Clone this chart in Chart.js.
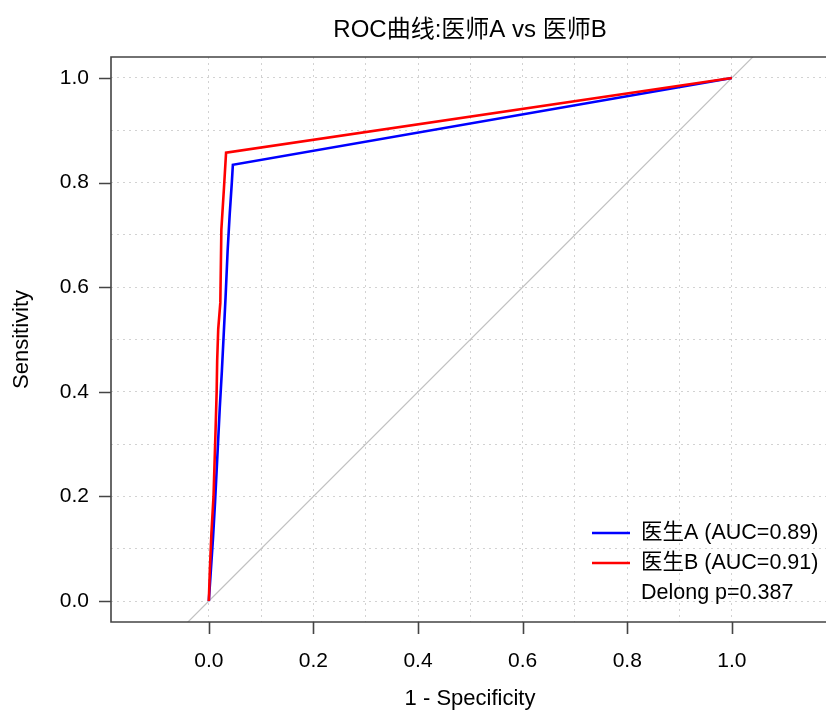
<!DOCTYPE html>
<html>
<head>
<meta charset="utf-8">
<script src="https://cdn.jsdelivr.net/npm/chart.js@4"></script>
<style>
  html, body { margin: 0; padding: 0; background: #fff; }
  #wrap { width: 826px; height: 710px; }
</style>
</head>
<body>
<div id="wrap"><canvas id="myChart" width="826" height="710"></canvas></div>
<script>
// ROC points (1 - specificity, sensitivity)
const fprA = [0, 0.004, 0.008, 0.012, 0.017, 0.021, 0.025, 0.028, 0.032, 0.036, 0.040, 0.044, 0.046, 1];
const tprA = [0, 0.06, 0.12, 0.19, 0.29, 0.37, 0.44, 0.50, 0.58, 0.67, 0.74, 0.80, 0.834, 1];
const fprB = [0, 0.002, 0.005, 0.009, 0.013, 0.015, 0.016, 0.018, 0.022, 0.024, 0.029, 0.033, 1];
const tprB = [0, 0.06, 0.13, 0.20, 0.33, 0.40, 0.46, 0.52, 0.57, 0.71, 0.79, 0.857, 1];
const diagX = [-0.2, 1.2];
const diagY = [-0.2, 1.2];

const legendLabels = ["医生A (AUC=0.89)", "医生B (AUC=0.91)"];
const pText = "Delong p=0.387";
const titleText = "ROC曲线:医师A vs 医师B";
const gridValues = [0, 0.1, 0.2, 0.3, 0.4, 0.5, 0.6, 0.7, 0.8, 0.9, 1.0];
const tickValues = [0, 0.2, 0.4, 0.6, 0.8, 1.0];

const FONT = "'Liberation Sans', Arial, 'Noto Sans CJK SC', sans-serif";

function toPoints(xs, ys) {
  return xs.map((x, i) => ({ x: x, y: ys[i] }));
}

// frame, tick marks, titles and legend
const decorations = {
  id: "decorations",
  afterDraw(chart) {
    const ctx = chart.ctx;
    const a = chart.chartArea;
    const xs = chart.scales.x;
    const ys = chart.scales.y;
    ctx.save();
    ctx.strokeStyle = "#444";
    ctx.lineWidth = 1.6;
    ctx.beginPath();
    ctx.moveTo(a.right + 5, a.top);
    ctx.lineTo(a.left, a.top);
    ctx.lineTo(a.left, a.bottom);
    ctx.lineTo(a.right + 5, a.bottom);
    ctx.stroke();
    ctx.beginPath();
    tickValues.forEach((v) => {
      const px = Math.round(xs.getPixelForValue(v)) + 0.5;
      ctx.moveTo(px, a.bottom);
      ctx.lineTo(px, a.bottom + 12);
      const py = Math.round(ys.getPixelForValue(v)) + 0.5;
      ctx.moveTo(a.left, py);
      ctx.lineTo(a.left - 12, py);
    });
    ctx.stroke();

    ctx.fillStyle = "#000";
    ctx.textAlign = "center";
    ctx.textBaseline = "middle";
    ctx.font = "24px " + FONT;
    ctx.fillText(titleText, 470, 30);
    ctx.font = "22px " + FONT;
    ctx.fillText("1 - Specificity", 470, 699);
    ctx.save();
    ctx.translate(22, (a.top + a.bottom) / 2);
    ctx.rotate(-Math.PI / 2);
    ctx.fillText("Sensitivity", 0, 0);
    ctx.restore();

    // legend
    const colors = ["#0000ff", "#ff0000"];
    ctx.textAlign = "left";
    ctx.font = "21.5px " + FONT;
    ctx.lineWidth = 2.5;
    legendLabels.forEach((t, i) => {
      const y = 533 + i * 30;
      ctx.strokeStyle = colors[i];
      ctx.beginPath();
      ctx.moveTo(592, y);
      ctx.lineTo(630, y);
      ctx.stroke();
      ctx.fillText(t, 641, y);
    });
    ctx.fillText(pText, 641, 593);
    ctx.restore();
  },
};

const ctx = document.getElementById("myChart").getContext("2d");
const myChart = new Chart(ctx, {
  type: "scatter",
  data: {
    datasets: [
      {
        label: legendLabels[1],
        data: toPoints(fprB, tprB),
        showLine: true,
        borderColor: "#ff0000",
        borderWidth: 2.6,
        pointRadius: 0,
        order: 0,
      },
      {
        label: legendLabels[0],
        data: toPoints(fprA, tprA),
        showLine: true,
        borderColor: "#0000ff",
        borderWidth: 2.6,
        pointRadius: 0,
        order: 1,
      },
      {
        label: "diagonal",
        data: toPoints(diagX, diagY),
        showLine: true,
        borderColor: "#c0c0c0",
        borderWidth: 1.2,
        pointRadius: 0,
        order: 2,
      },
    ],
  },
  options: {
    responsive: false,
    animation: false,
    layout: { padding: { top: 57, left: 0, right: 0, bottom: 0 } },
    plugins: {
      legend: { display: false },
      title: { display: false },
      tooltip: { enabled: false },
    },
    scales: {
      x: {
        type: "linear",
        min: -0.187,
        max: 1.18,
        afterFit(scale) { scale.height = 88; },
        afterBuildTicks(scale) { scale.ticks = gridValues.map((v) => ({ value: v })); },
        grid: { color: "#d2d2d2", lineWidth: 1, drawTicks: false },
        border: { display: false, dash: [2, 4] },
        ticks: {
          padding: 27,
          maxRotation: 0,
          autoSkip: false,
          color: "#000",
          font: { family: FONT, size: 21 },
          callback: (v) => (tickValues.some((t) => Math.abs(t - v) < 1e-6) ? v.toFixed(1) : ""),
        },
      },
      y: {
        type: "linear",
        min: -0.04,
        max: 1.04,
        afterFit(scale) { scale.width = 111; },
        afterBuildTicks(scale) { scale.ticks = gridValues.map((v) => ({ value: v })); },
        grid: { color: "#d2d2d2", lineWidth: 1, drawTicks: false },
        border: { display: false, dash: [2, 4] },
        ticks: {
          padding: 22,
          autoSkip: false,
          color: "#000",
          font: { family: FONT, size: 21 },
          callback: (v) => (tickValues.some((t) => Math.abs(t - v) < 1e-6) ? v.toFixed(1) : ""),
        },
      },
    },
  },
  plugins: [decorations],
});
</script>
</body>
</html>
